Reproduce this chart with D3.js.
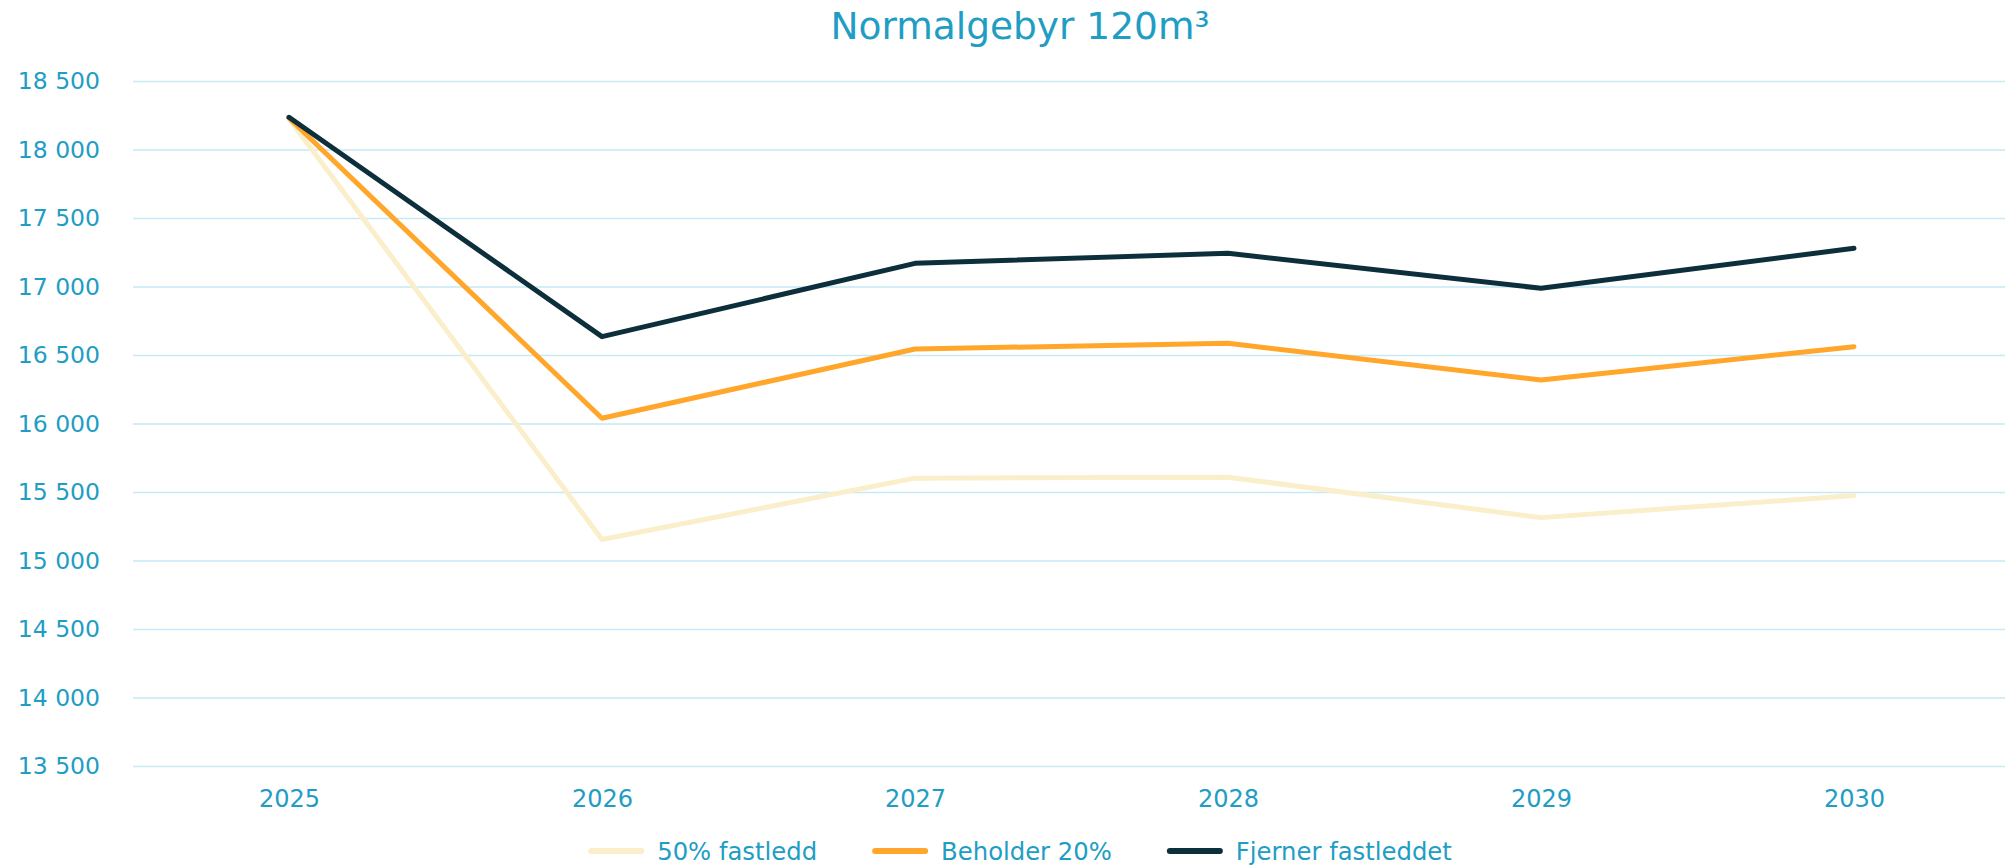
<!DOCTYPE html>
<html>
<head>
    <meta charset="utf-8" />
    <title>Normalgebyr 120m³</title>
    <style>
        body {
            margin: 0;
            overflow: hidden;
            background: #fff;
        }
        /* all text in the chart uses the same blue */
        #chart text {
            font-family: "DejaVu Sans", Verdana, sans-serif;
            fill: #219dc4;
        }
    </style>
</head>
<body>
    <div id="chart"></div>
    <script src="https://d3js.org/d3.v7.min.js"></script>
    <script>
        // chart data
        var years = ["2025", "2026", "2027", "2028", "2029", "2030"];
        var halvFastledd = [18225, 15153, 15601, 15608, 15313, 15474];
        var beholder20 = [18230, 16038, 16544, 16585, 16318, 16561];
        var fjernerFastledd = [18235, 16634, 17169, 17242, 16987, 17279];
        var seriesNames = ["50% fastledd", "Beholder 20%", "Fjerner fastleddet"];
        var seriesColors = ["#faefca", "#ffa62b", "#0c2f3b"];
        var yTicks = [13500, 14000, 14500, 15000, 15500, 16000, 16500, 17000, 17500, 18000, 18500];

        var series = [halvFastledd, beholder20, fjernerFastledd].map(function (vals, i) {
            return { name: seriesNames[i], color: seriesColors[i], values: vals };
        });

        var width = 2005, height = 865;
        var plot = { left: 133, right: 2005, top: 81, bottom: 766 };
        var centerX = 1020;

        var svg = d3.select("#chart")
            .append("svg")
            .attr("width", width)
            .attr("height", height);

        // title
        svg.append("text")
            .attr("x", centerX)
            .attr("y", 39)
            .attr("text-anchor", "middle")
            .style("font-size", "37.5px")
            .text("Normalgebyr 120m³");

        // category slots run a little past the right edge, like the original
        var x = d3.scalePoint()
            .domain(years)
            .range([132.5, 2010.5])
            .padding(0.5);

        var y = d3.scaleLinear()
            .domain([13500, 18500])
            .range([plot.bottom, plot.top]);

        // horizontal grid + y labels
        var yAxis = svg.append("g")
            .attr("transform", `translate(${plot.left},0)`)
            .call(d3.axisLeft(y)
                .tickValues(yTicks)
                .tickSize(-(plot.right - plot.left))
                .tickPadding(33)
                .tickFormat(d => d3.format(",")(d).replace(",", " ")));
        yAxis.select(".domain").remove();
        yAxis.selectAll(".tick line")
            .attr("stroke", "#c6e9f4")
            .attr("stroke-width", 1.5);
        yAxis.selectAll(".tick text")
            .style("font-size", "23.5px");

        // x labels
        var xAxis = svg.append("g")
            .attr("transform", `translate(0,${plot.bottom})`)
            .call(d3.axisBottom(x).tickSize(0).tickPadding(24));
        xAxis.select(".domain").remove();
        xAxis.selectAll(".tick text")
            .style("font-size", "24px");

        // lines
        var line = d3.line()
            .x((d, i) => x(years[i]))
            .y(d => y(d));

        svg.append("g")
            .selectAll("path")
            .data(series)
            .join("path")
            .attr("d", d => line(d.values))
            .attr("fill", "none")
            .attr("stroke", d => d.color)
            .attr("stroke-width", 5)
            .attr("stroke-linejoin", "round")
            .attr("stroke-linecap", "round");

        // legend, centred under the chart
        var legend = svg.append("g");
        var items = legend.selectAll("g")
            .data(series)
            .join("g");
        items.append("line")
            .attr("x1", 3)
            .attr("x2", 53)
            .attr("y1", 0)
            .attr("y2", 0)
            .attr("stroke", d => d.color)
            .attr("stroke-width", 6)
            .attr("stroke-linecap", "round");
        items.append("text")
            .attr("x", 69)
            .attr("dy", "0.36em")
            .style("font-size", "24.3px")
            .text(d => d.name);

        var offset = 0;
        items.each(function () {
            var g = d3.select(this);
            var w = 69 + g.select("text").node().getComputedTextLength();
            g.attr("transform", `translate(${offset},0)`);
            offset += w + 55;
        });
        var totalW = offset - 55;
        legend.attr("transform", `translate(${centerX - totalW / 2},851)`);
    </script>
</body>
</html>
